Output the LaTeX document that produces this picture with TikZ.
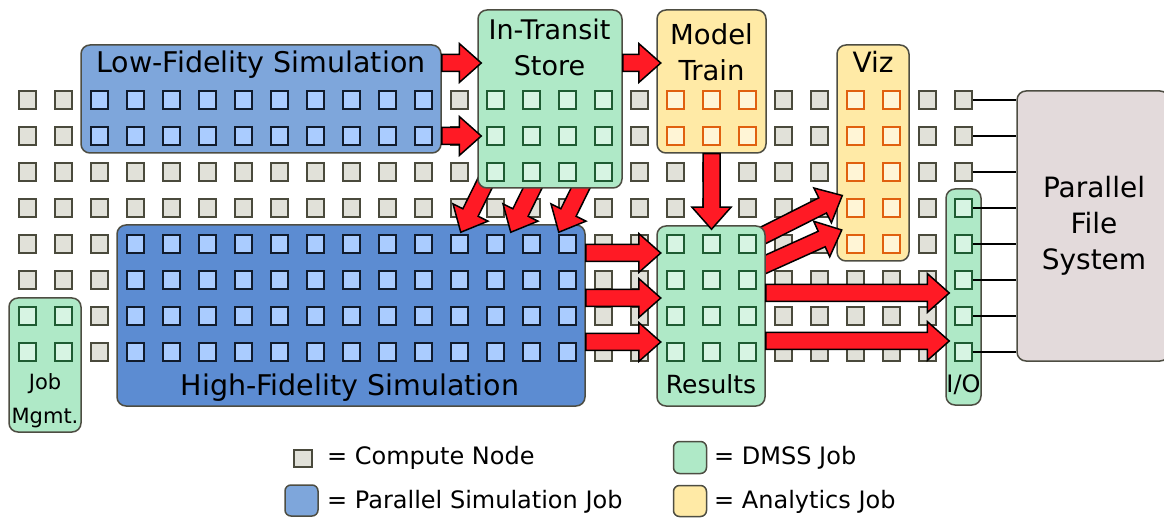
\documentclass[tikz,border=0pt]{standalone}
\usepackage{fontspec}
\setmainfont{DejaVu Sans}
\usetikzlibrary{calc}

\definecolor{cfill}{HTML}{E1E1D9}
\definecolor{cborder}{HTML}{4A4A3C}
\definecolor{boxborder}{HTML}{4D4D42}
\definecolor{lfblue}{HTML}{7EA6DB}
\definecolor{hfblue}{HTML}{5C8CD2}
\definecolor{bluein}{HTML}{AACCFF}
\definecolor{bluebd}{HTML}{101B2C}
\definecolor{dmss}{HTML}{AFE9C7}
\definecolor{dmssin}{HTML}{D7F4E3}
\definecolor{dmssbd}{HTML}{1E5B32}
\definecolor{anl}{HTML}{FFEAA6}
\definecolor{anlin}{HTML}{FFF5D6}
\definecolor{anlbd}{HTML}{E0600F}
\definecolor{pfsfill}{HTML}{E3DADB}
\definecolor{flow}{HTML}{FF1A25}

\newcommand{\fs}[1]{\fontsize{#1}{#1}\selectfont}

% wide block arrow with an outlined body and head, from #1 to #2
\newcommand{\blockarrow}[2]{%
  \path (#1) coordinate (ba-s) (#2) coordinate (ba-t);
  \path ($(ba-t)!22pt!(ba-s)$) coordinate (ba-h);
  \filldraw[flowarrow]
    ($(ba-s)!8.5pt!90:(ba-t)$) -- ($(ba-h)!8.5pt!90:(ba-t)$) -- ($(ba-h)!19.5pt!90:(ba-t)$)
    -- (ba-t)
    -- ($(ba-h)!19.5pt!-90:(ba-t)$) -- ($(ba-h)!8.5pt!-90:(ba-t)$) -- ($(ba-s)!8.5pt!-90:(ba-t)$)
    -- cycle;
}

\tikzset{
  sq/.style={rectangle, minimum size=17.5, inner sep=0pt, line width=2pt},
  cnode/.style={sq, fill=cfill, draw=cborder},
  simsq/.style={sq, fill=bluein, draw=bluebd},
  dmsssq/.style={sq, fill=dmssin, draw=dmssbd},
  anlsq/.style={sq, fill=anlin, draw=anlbd},
  jobbox/.style={rectangle, rounded corners=9pt, draw=boxborder, line width=1.5pt, inner sep=0pt},
  txt/.style={inner sep=0pt, anchor=base, text=black},
  flowarrow/.style={fill=flow, draw=black, line width=1.5pt, line join=miter},
  pfsline/.style={draw=black, line width=1.3pt},
}

\begin{document}
\begin{tikzpicture}[x=1pt, y=-1pt]
\useasboundingbox (0,0) rectangle (1164,518);

% ---------- free compute nodes ----------
\foreach \i in {0,1,12,17,21,22,25,26} \node[cnode] (cn-\i-0) at ({27.5+36*\i},100) {};
\foreach \i in {0,1,12,17,21,22,25,26} \node[cnode] (cn-\i-1) at ({27.5+36*\i},136) {};
\foreach \i in {0,...,12,17,18,19,20,21,22,25,26} \node[cnode] (cn-\i-2) at ({27.5+36*\i},172) {};
\foreach \i in {0,...,22,25} \node[cnode] (cn-\i-3) at ({27.5+36*\i},208) {};
\foreach \i in {0,1,2,16,17,21,22,25} \node[cnode] (cn-\i-4) at ({27.5+36*\i},244) {};
\foreach \i in {0,1,2,16,17,21,22,23,24,25} \node[cnode] (cn-\i-5) at ({27.5+36*\i},280) {};
\foreach \i in {2,16,17,21,22,23,24,25} \node[cnode] (cn-\i-6) at ({27.5+36*\i},316) {};
\foreach \i in {2,16,17,21,22,23,24,25} \node[cnode] (cn-\i-7) at ({27.5+36*\i},352) {};

% ---------- low-fidelity simulation ----------
\node[jobbox, fill=lfblue, minimum width=360, minimum height=108] (lf) at (261,99) {};
\foreach \i in {2,...,11} \foreach \j in {0,1}
  \node[simsq] (lf-\i-\j) at ({27.5+36*\i},{100+36*\j}) {};
\node[txt, font=\fs{28.5}] (lf-text) at (261,73) {Low-Fidelity Simulation};

% ---------- high-fidelity simulation ----------
\node[jobbox, fill=hfblue, minimum width=468, minimum height=181] (hf) at (351,315.5) {};
\foreach \i in {3,...,15} \foreach \j in {4,...,7}
  \node[simsq] (hf-\i-\j) at ({27.5+36*\i},{100+36*\j}) {};
\node[txt, font=\fs{28.5}] (hf-text) at (350,395) {High-Fidelity Simulation};

% ---------- job management ----------
\node[jobbox, fill=dmss, minimum width=72, minimum height=134] (jm) at (45,365) {};
\foreach \i in {0,1} \foreach \j in {6,7}
  \node[dmsssq] (jm-\i-\j) at ({27.5+36*\i},{100+36*\j}) {};
\node[txt, font=\fs{21}] (jm-text1) at (45,389) {Job};
\node[txt, font=\fs{21}] (jm-text2) at (45,423) {Mgmt.};

% ---------- model training ----------
\node[jobbox, fill=anl, minimum width=109, minimum height=143] (mt) at (711.5,81.5) {};
\foreach \i in {18,19,20} \foreach \j in {0,1}
  \node[anlsq] (mt-\i-\j) at ({27.5+36*\i},{100+36*\j}) {};
\node[txt, font=\fs{27.5}] (mt-text1) at (711.5,45) {Model};
\node[txt, font=\fs{27.5}] (mt-text2) at (711.5,81) {Train};

% ---------- visualization ----------
\node[jobbox, fill=anl, minimum width=72, minimum height=216] (viz) at (873,153) {};
\foreach \i in {23,24} \foreach \j in {0,...,4}
  \node[anlsq] (viz-\i-\j) at ({27.5+36*\i},{100+36*\j}) {};
\node[txt, font=\fs{28}] (viz-text) at (873,73) {Viz};

% ---------- I/O ----------
\node[jobbox, fill=dmss, minimum width=35, minimum height=216] (io) at (963.5,297) {};
\foreach \j in {3,...,7}
  \node[dmsssq] (io-26-\j) at (963.5,{100+36*\j}) {};
\node[txt, font=\fs{24}] (io-text) at (963.5,392) {I/O};

% ---------- parallel file system ----------
\begin{scope}
  \clip (0,0) rectangle (1164,518);
  \node[jobbox, fill=pfsfill, minimum width=152, minimum height=270] (pfs) at (1093,226) {};
\end{scope}
\foreach \j in {0,1,2} \draw[pfsline] (cn-26-\j.east) -- (cn-26-\j.east -| pfs.west);
\foreach \j in {3,...,7} \draw[pfsline] (io-26-\j.east) -- (io-26-\j.east -| pfs.west);
\node[txt, font=\fs{28}] (pfs-text1) at (1094,198) {Parallel};
\node[txt, font=\fs{28}] (pfs-text2) at (1094,234) {File};
\node[txt, font=\fs{28}] (pfs-text3) at (1094,269.5) {System};

% ---------- arrow end points ----------
\coordinate (it-hf-1s) at (489,175);
\coordinate (it-hf-2s) at (539,175);
\coordinate (it-hf-3s) at (587,175);
\coordinate (it-hf-1t) at ($(hf.north east)+(-125,8)$);
\coordinate (it-hf-2t) at ($(hf.north east)+(-75,8)$);
\coordinate (it-hf-3t) at ($(hf.north east)+(-27,8)$);

% in-transit store feeds the high-fidelity run
\blockarrow{it-hf-1s}{it-hf-1t}
\blockarrow{it-hf-2s}{it-hf-2t}
\blockarrow{it-hf-3s}{it-hf-3t}

% ---------- in-transit store ----------
\node[jobbox, fill=dmss, minimum width=144, minimum height=178] (it) at (550,99) {};
\foreach \i in {13,...,16} \foreach \j in {0,1,2}
  \node[dmsssq] (it-\i-\j) at ({27.5+36*\i},{100+36*\j}) {};
\node[txt, font=\fs{27}] (it-text1) at (549.5,40) {In-Transit};
\node[txt, font=\fs{27}] (it-text2) at (549.5,76) {Store};

% results to visualization (behind the results box)
\coordinate (res-viz-1s) at (753,240.5);
\coordinate (res-viz-2s) at (753,270);
\coordinate (res-viz-1t) at ($(viz.west)+(6,42.5)$);
\coordinate (res-viz-2t) at ($(viz.west)+(5.5,77)$);
\blockarrow{res-viz-1s}{res-viz-1t}
\blockarrow{res-viz-2s}{res-viz-2t}

% ---------- results ----------
\node[jobbox, fill=dmss, minimum width=108, minimum height=180] (res) at (711,316) {};
\foreach \i in {18,19,20} \foreach \j in {4,...,7}
  \node[dmsssq] (res-\i-\j) at ({27.5+36*\i},{100+36*\j}) {};
\node[txt, font=\fs{25}] (res-text) at (711,393) {Results};

% ---------- remaining data flows ----------
\coordinate (lf-it-1s) at ($(lf.east)+(0,-36)$);
\coordinate (lf-it-1t) at ($(it.west)+(4,-36)$);
\coordinate (lf-it-2s) at ($(lf.east)+(0,37)$);
\coordinate (lf-it-2t) at ($(it.west)+(4,37)$);
\blockarrow{lf-it-1s}{lf-it-1t}
\blockarrow{lf-it-2s}{lf-it-2t}

\coordinate (it-mt-s) at ($(it.east)+(0,-36)$);
\coordinate (it-mt-t) at ($(mt.west)+(4.5,-18.5)$);
\blockarrow{it-mt-s}{it-mt-t}

\coordinate (mt-res-t) at ($(res.north)+(0.5,4)$);
\blockarrow{mt.south}{mt-res-t}

\coordinate (hf-res-1s) at ($(hf.east)+(0,-62.5)$);
\coordinate (hf-res-1t) at ($(res.west)+(4.5,-63)$);
\coordinate (hf-res-2s) at ($(hf.east)+(0,-17.5)$);
\coordinate (hf-res-2t) at ($(res.west)+(4.5,-18)$);
\coordinate (hf-res-3s) at ($(hf.east)+(0,26.5)$);
\coordinate (hf-res-3t) at ($(res.west)+(4.5,26)$);
\blockarrow{hf-res-1s}{hf-res-1t}
\blockarrow{hf-res-2s}{hf-res-2t}
\blockarrow{hf-res-3s}{hf-res-3t}

\coordinate (res-io-1s) at ($(res.east)+(0,-23)$);
\coordinate (res-io-1t) at ($(io.west)+(4,-4)$);
\coordinate (res-io-2s) at ($(res.east)+(0,25)$);
\coordinate (res-io-2t) at ($(io.west)+(4,44)$);
\blockarrow{res-io-1s}{res-io-1t}
\blockarrow{res-io-2s}{res-io-2t}

% ---------- legend ----------
\node[cnode] (leg-cn) at (303,458.5) {};
\node[txt, anchor=base west, font=\fs{24}] (leg-cn-text) at (327,464) {= Compute Node};
\node[jobbox, fill=lfblue, rounded corners=6pt, minimum width=33, minimum height=31] (leg-sim) at (301.5,500.5) {};
\node[txt, anchor=base west, font=\fs{24}] (leg-sim-text) at (327,508.5) {= Parallel Simulation Job};
\node[jobbox, fill=dmss, rounded corners=6pt, minimum width=33, minimum height=32] (leg-dmss) at (690,457.5) {};
\node[txt, anchor=base west, font=\fs{24}] (leg-dmss-text) at (714,464) {= DMSS Job};
\node[jobbox, fill=anl, rounded corners=6pt, minimum width=33, minimum height=31] (leg-anl) at (690,501) {};
\node[txt, anchor=base west, font=\fs{24}] (leg-anl-text) at (714,508.5) {= Analytics Job};
\end{tikzpicture}
\end{document}
